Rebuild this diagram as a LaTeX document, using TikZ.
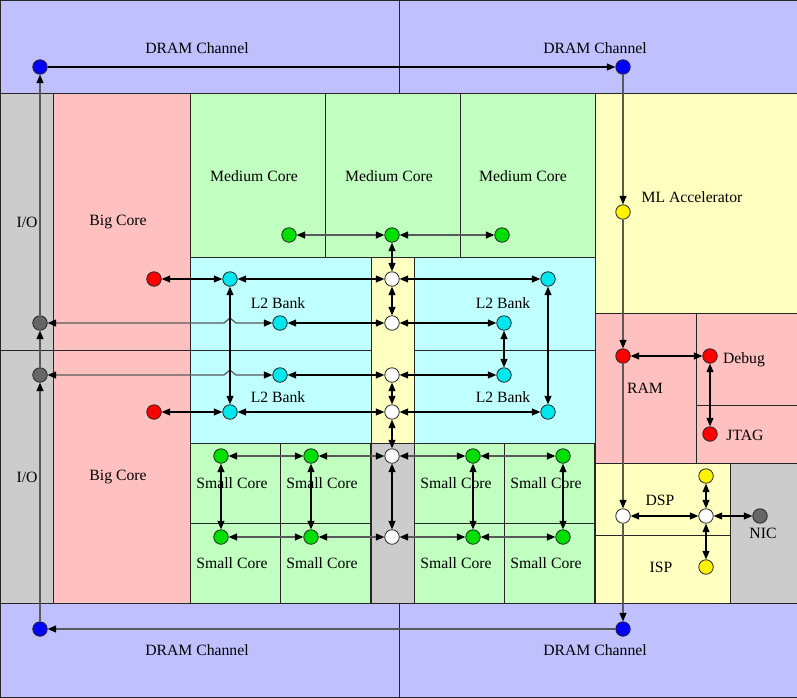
\documentclass[tikz,border=0pt]{standalone}
\usepackage{fontspec}
\setmainfont{Liberation Serif}
\usetikzlibrary{arrows.meta}
\definecolor{dramc}{HTML}{C0C0FF}
\definecolor{pinkc}{HTML}{FFC0C0}
\definecolor{greenc}{HTML}{C0FFC0}
\definecolor{cyanc}{HTML}{C0FFFF}
\definecolor{yellc}{HTML}{FFFFC0}
\definecolor{greyc}{HTML}{CCCCCC}
\definecolor{dotgreen}{HTML}{00E000}
\definecolor{dotcyan}{HTML}{00E8EE}
\definecolor{dotgrey}{HTML}{666666}

\begin{document}
\begin{tikzpicture}[x=1pt,y=-1pt,font=\fontsize{15.7}{18}\selectfont,
  blk/.style={draw=black!85,line width=0.9pt},
  dot/.style={circle,draw=black!85,line width=0.8pt,minimum size=14.5pt,inner sep=0pt},
  lnk/.style={line width=1.1pt},
  dim/.style={line width=1.2pt,draw=black!65},
  >={Triangle[length=8.5pt,width=7pt,color=black]}]
\useasboundingbox (0,0) rectangle (797,697);

% DRAM channels
\draw[blk,fill=dramc] (0,0) rectangle (399,93);
\draw[blk,fill=dramc] (399,0) rectangle (797,93);
\draw[blk,fill=dramc] (0,603) rectangle (399,697);
\draw[blk,fill=dramc] (399,603) rectangle (797,697);
\node (dram1) at (197,48) {DRAM Channel};
\node (dram2) at (595,48) {DRAM Channel};
\node (dram3) at (197,650) {DRAM Channel};
\node (dram4) at (595,650) {DRAM Channel};

% I/O and big cores
\draw[blk,fill=greyc] (0,93) rectangle (53,350);
\draw[blk,fill=greyc] (0,350) rectangle (53,603);
\draw[blk,fill=pinkc] (53,93) rectangle (190,350);
\draw[blk,fill=pinkc] (53,350) rectangle (190,603);
\node (io1lbl) at (27,222) {I/O};
\node (io2lbl) at (27,477) {I/O};
\node (big1) at (118,222) {Big Core};
\node (big2) at (118,477) {Big Core};

% medium cores
\foreach \x/\nm in {190/1,325/2,460/3}
  \draw[blk,fill=greenc] (\x,93) rectangle ++(135,164);
\node (med1) at (254,176) {Medium Core};
\node (med2) at (389,176) {Medium Core};
\node (med3) at (523,176) {Medium Core};

% L2 banks and router column
\draw[blk,fill=cyanc] (190,257) rectangle (371,350);
\draw[blk,fill=cyanc] (190,350) rectangle (371,443);
\draw[blk,fill=cyanc] (414,257) rectangle (595,350);
\draw[blk,fill=cyanc] (414,350) rectangle (595,443);
\draw[blk,fill=yellc] (371,257) rectangle (414,443);
\draw[blk,fill=greyc] (371,443) rectangle (414,603);
\node (l2a) at (278,303) {L2 Bank};
\node (l2b) at (278,397) {L2 Bank};
\node (l2c) at (503,303) {L2 Bank};
\node (l2d) at (503,397) {L2 Bank};

% small cores
\foreach \x in {190,280,414,504}
  \foreach \y in {443,523}
    \draw[blk,fill=greenc] (\x,\y) rectangle ++(90.5,80);
\foreach \x in {232,322,456,546}
  \foreach \y in {483,563}
    \node at (\x,\y) {Small Core};

% right side blocks
\draw[blk,fill=yellc] (595,93) rectangle (797,313);
\draw[blk,fill=pinkc] (595,313) rectangle (696,463);
\draw[blk,fill=pinkc] (696,313) rectangle (797,405);
\draw[blk,fill=pinkc] (696,405) rectangle (797,463);
\draw[blk,fill=yellc] (595,463) rectangle (730,535);
\draw[blk,fill=yellc] (595,535) rectangle (730,603);
\draw[blk,fill=greyc] (730,463) rectangle (797,603);
\node (mllbl) at (692,197) {ML Accelerator};
\node (ramlbl) at (645,388) {RAM};
\node (dbglbl) at (744,360) {Debug};
\node (jtaglbl) at (745,435) {JTAG};
\node (dsplbl) at (660,500) {DSP};
\node (isplbl) at (661,567) {ISP};
\node (niclbl) at (763,533) {NIC};

% endpoints
\node[dot,fill=blue] (b1) at (40,67) {};
\node[dot,fill=blue] (b2) at (623,67) {};
\node[dot,fill=blue] (b3) at (40,629) {};
\node[dot,fill=blue] (b4) at (623,629) {};
\node[dot,fill=dotgrey] (io1) at (40,323) {};
\node[dot,fill=dotgrey] (io2) at (40,375) {};
\node[dot,fill=red] (bc1) at (154,279) {};
\node[dot,fill=red] (bc2) at (154,412) {};
\node[dot,fill=dotgreen] (m1) at (289,235) {};
\node[dot,fill=dotgreen] (m2) at (392,235) {};
\node[dot,fill=dotgreen] (m3) at (502,235) {};
\node[dot,fill=dotcyan] (c1) at (230,279) {};
\node[dot,fill=dotcyan] (c2) at (280,323) {};
\node[dot,fill=dotcyan] (c3) at (280,375) {};
\node[dot,fill=dotcyan] (c4) at (230,412) {};
\node[dot,fill=dotcyan] (c5) at (548,279) {};
\node[dot,fill=dotcyan] (c6) at (504,323) {};
\node[dot,fill=dotcyan] (c7) at (504,375) {};
\node[dot,fill=dotcyan] (c8) at (548,412) {};
\node[dot,fill=white] (r1) at (392,279) {};
\node[dot,fill=white] (r2) at (392,323) {};
\node[dot,fill=white] (r3) at (392,375) {};
\node[dot,fill=white] (r4) at (392,412) {};
\node[dot,fill=white] (r5) at (392,456) {};
\node[dot,fill=white] (r6) at (392,537) {};
\node[dot,fill=dotgreen] (s1) at (221,456) {};
\node[dot,fill=dotgreen] (s2) at (311,456) {};
\node[dot,fill=dotgreen] (s3) at (473,456) {};
\node[dot,fill=dotgreen] (s4) at (563,456) {};
\node[dot,fill=dotgreen] (s5) at (221,537) {};
\node[dot,fill=dotgreen] (s6) at (311,537) {};
\node[dot,fill=dotgreen] (s7) at (473,537) {};
\node[dot,fill=dotgreen] (s8) at (563,537) {};
\node[dot,fill=yellow] (ml) at (623,212) {};
\node[dot,fill=red] (ram) at (623,356) {};
\node[dot,fill=red] (dbg) at (710,356) {};
\node[dot,fill=red] (jtag) at (710,434) {};
\node[dot,fill=white] (dsp) at (623,516) {};
\node[dot,fill=white] (dsprt) at (706,516) {};
\node[dot,fill=yellow] (dspy) at (706,476) {};
\node[dot,fill=yellow] (isp) at (706,567) {};
\node[dot,fill=dotgrey] (nic) at (760,516) {};

% DRAM ring
\draw[lnk,->] (b1) -- (b2);
\draw[dim,->] (b2) -- (ml);
\draw[dim,->] (ml) -- (ram);
\draw[dim,->] (ram) -- (dsp);
\draw[dim,->] (dsp) -- (b4);
\draw[dim,->] (b4) -- (b3);
\draw[dim,->] (b3) -- (io2);
\draw[dim,->] (io2) -- (io1);
\draw[dim,->] (io1) -- (b1);

% I/O links with jumps over the L2 link
\draw[dim,<->] (io1) -- ([xshift=-6pt]c1 |- io1) -- ([yshift=5pt]c1 |- io1)
  -- ([xshift=6pt]c1 |- io1) -- (c2);
\draw[dim,<->] (io2) -- ([xshift=-6pt]c1 |- io2) -- ([yshift=5pt]c1 |- io2)
  -- ([xshift=6pt]c1 |- io2) -- (c3);

% medium cores
\draw[dim,<->] (m1) -- (m2);
\draw[dim,<->] (m2) -- (m3);
\draw[lnk,<->] (m2) -- (r1);

% L2 and routers
\draw[lnk,<->] (bc1) -- (c1);
\draw[lnk,<->] (c1) -- (r1);
\draw[lnk,<->] (r1) -- (c5);
\draw[lnk,<->] (c2) -- (r2);
\draw[lnk,<->] (r2) -- (c6);
\draw[lnk,<->] (c3) -- (r3);
\draw[lnk,<->] (r3) -- (c7);
\draw[lnk,<->] (bc2) -- (c4);
\draw[lnk,<->] (c4) -- (r4);
\draw[lnk,<->] (r4) -- (c8);
\draw[lnk,<->] (c1) -- (c4);
\draw[lnk,<->] (c5) -- (c8);
\draw[lnk,<->] (c6) -- (c7);
\draw[lnk,<->] (r1) -- (r2);
\draw[lnk,<->] (r3) -- (r4);
\draw[lnk,<->] (r4) -- (r5);
\draw[lnk,<->] (r5) -- (r6);

% small cores
\draw[dim,<->] (s1) -- (s2);
\draw[dim,<->] (s2) -- (r5);
\draw[dim,<->] (r5) -- (s3);
\draw[dim,<->] (s3) -- (s4);
\draw[dim,<->] (s5) -- (s6);
\draw[dim,<->] (s6) -- (r6);
\draw[dim,<->] (r6) -- (s7);
\draw[dim,<->] (s7) -- (s8);
\foreach \a/\b in {s1/s5,s2/s6,s3/s7,s4/s8}
  \draw[lnk,<->] (\a) -- (\b);

% peripherals
\draw[lnk,<->] (ram) -- (dbg);
\draw[lnk,<->] (dbg) -- (jtag);
\draw[lnk,<->] (dsp) -- (dsprt);
\draw[lnk,<->] (dsprt) -- (dspy);
\draw[lnk,<->] (dsprt) -- (isp);
\draw[lnk,<->] (dsprt) -- (nic);
\end{tikzpicture}
\end{document}
